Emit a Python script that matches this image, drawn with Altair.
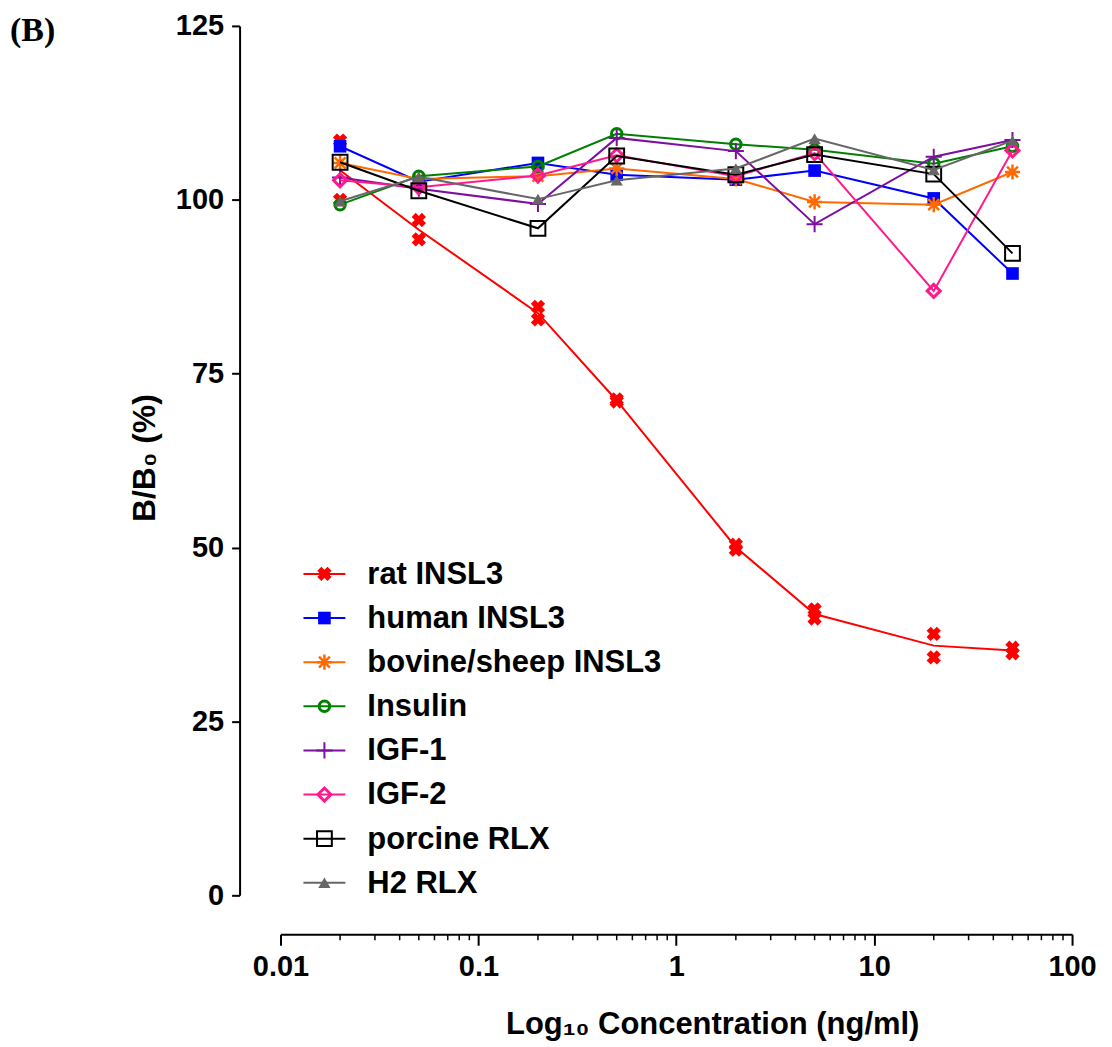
import altair as alt
import pandas as pd

# ---------------- data ----------------
conc = [0.02, 0.05, 0.2, 0.5, 2, 5, 20, 50]

rat_rep1 = [108.5, 97.1, 84.6, 71.3, 50.4, 41.1, 37.6, 35.6]
rat_rep2 = [100.0, 94.3, 82.8, 71.0, 49.7, 39.8, 34.2, 34.8]
human = [107.7, 102.6, 105.3, 103.6, 102.9, 104.2, 100.2, 89.4]
bovine = [105.3, 103.0, 103.4, 104.5, 103.0, 99.7, 99.3, 104.0]
insulin = [99.3, 103.4, 104.8, 109.5, 108.0, 107.2, 105.2, 107.7]
igf1 = [103.2, 101.6, 99.4, 108.9, 107.0, 96.5, 106.2, 108.6]
igf2 = [102.8, 101.8, 103.5, 106.4, 103.4, 106.7, 86.9, 107.1]
porcine = [105.4, 101.3, 95.9, 106.3, 103.6, 106.5, 103.7, 92.3]
h2 = [99.8, 103.3, 100.1, 102.8, 104.5, 108.8, 104.3, 108.5]

series_names = ["rat INSL3", "human INSL3", "bovine/sheep INSL3", "Insulin",
                "IGF-1", "IGF-2", "porcine RLX", "H2 RLX"]

x_tick_values = [0.01, 0.1, 1, 10, 100]
y_tick_values = [0, 25, 50, 75, 100, 125]
minor_ticks = [m * d for d in [0.01, 0.1, 1, 10] for m in range(2, 10)]

# ---------------- styles ----------------
FONT = "Liberation Sans"
W, H = 793, 871

ASTER = "M-1,0L1,0M0,-1L0,1M-0.72,-0.72L0.72,0.72M-0.72,0.72L0.72,-0.72"
PLUS = "M-1,0L1,0M0,-1L0,1"

styles = [
    dict(color="#ff0000", shape="cross", filled=True, size=210, sw=0, angle=45),
    dict(color="#0000ff", shape="square", filled=True, size=160, sw=0, angle=0),
    dict(color="#ff6a00", shape=ASTER, filled=False, size=230, sw=2.5, angle=0),
    dict(color="#008000", shape="circle", filled=False, size=110, sw=3, angle=0),
    dict(color="#7b0fa0", shape=PLUS, filled=False, size=260, sw=2, angle=0),
    dict(color="#ff1a8c", shape="diamond", filled=False, size=170, sw=3, angle=0),
    dict(color="#000000", shape="square", filled=False, size=220, sw=2, angle=0),
    dict(color="#666666", shape="triangle-up", filled=True, size=150, sw=0, angle=0),
]

values_by_series = [
    [(a + b) / 2 for a, b in zip(rat_rep1, rat_rep2)],
    human, bovine, insulin, igf1, igf2, porcine, h2,
]

x_enc = alt.X(
    "conc:Q",
    scale=alt.Scale(type="log", domain=[0.01, 100], nice=False),
    axis=alt.Axis(values=x_tick_values, format="~g", offset=39, tickSize=11,
                  tickWidth=2, domainWidth=2, labelPadding=7, labelFontSize=29,
                  labelFont=FONT, labelFontWeight="bold", labelColor="black",
                  labelOverlap=False, labelFlush=False, grid=False, title=None,
                  domainColor="black", tickColor="black"),
)
y_enc = alt.Y(
    "val:Q",
    scale=alt.Scale(domain=[0, 125], nice=False),
    axis=alt.Axis(values=y_tick_values, offset=41, tickSize=8, tickWidth=2,
                  domainWidth=2, labelPadding=8, labelFontSize=29, labelFont=FONT,
                  labelFontWeight="bold", labelColor="black", grid=False,
                  title=None, domainColor="black", tickColor="black"),
)


def point_mark(st, **extra):
    kw = dict(shape=st["shape"], size=st["size"], opacity=1)
    if st["filled"]:
        kw.update(filled=True, fill=st["color"], strokeWidth=0)
    else:
        kw.update(filled=False, stroke=st["color"], strokeWidth=st["sw"])
    if st["angle"]:
        kw["angle"] = st["angle"]
    kw.update(extra)
    return kw


layers = []

# minor ticks on x axis
minor_df = pd.DataFrame({"conc": minor_ticks})
layers.append(
    alt.Chart(minor_df).mark_rule(color="black", strokeWidth=1.5).encode(
        x=x_enc, y=alt.value(H + 39), y2=alt.value(H + 45)
    )
)

for i, name in enumerate(series_names):
    st = styles[i]
    df_line = pd.DataFrame({"conc": conc, "val": values_by_series[i], "series": name})
    layers.append(
        alt.Chart(df_line).mark_line(color=st["color"], strokeWidth=2).encode(x=x_enc, y=y_enc)
    )
    if i == 0:
        df_pts = pd.DataFrame({"conc": conc + conc, "val": rat_rep1 + rat_rep2})
    else:
        df_pts = df_line
    layers.append(
        alt.Chart(df_pts).mark_point(**point_mark(st)).encode(x=x_enc, y=y_enc)
    )

# manual legend
LEG_Y0, LEG_DY = 549, 44.2
for i, name in enumerate(series_names):
    st = styles[i]
    ly = LEG_Y0 + LEG_DY * i
    ldf = pd.DataFrame({"label": [name]})
    base = alt.Chart(ldf)
    layers.append(base.mark_rule(color=st["color"], strokeWidth=2).encode(
        x=alt.value(23), x2=alt.value(65), y=alt.value(ly)))
    layers.append(base.mark_point(**point_mark(st)).encode(
        x=alt.value(44), y=alt.value(ly)))
    layers.append(base.mark_text(align="left", baseline="middle", font=FONT,
                                 fontWeight="bold", fontSize=31, color="black").encode(
        x=alt.value(87), y=alt.value(ly + 1), text="label:N"))

# titles
tdf = pd.DataFrame({"t": ["B/B\u2080 (%)"]})
layers.append(alt.Chart(tdf).mark_text(angle=270, align="center", baseline="middle",
                                       font=FONT, fontWeight="bold", fontSize=32,
                                       color="black").encode(
    x=alt.value(-136), y=alt.value(433), text="t:N"))
xdf = pd.DataFrame({"t": ["Log\u2081\u2080 Concentration (ng/ml)"]})
layers.append(alt.Chart(xdf).mark_text(align="center", baseline="alphabetic",
                                       font=FONT, fontWeight="bold", fontSize=31,
                                       color="black").encode(
    x=alt.value(433), y=alt.value(1010), text="t:N"))
bdf = pd.DataFrame({"t": ["(B)"]})
layers.append(alt.Chart(bdf).mark_text(align="left", baseline="alphabetic",
                                       font="Liberation Serif", fontWeight="bold",
                                       fontSize=34, color="black").encode(
    x=alt.value(-271), y=alt.value(15), text="t:N"))

chart = alt.layer(*layers).properties(
    width=W, height=H,
    background="white",
    autosize=alt.AutoSizeParams(type="none"),
    padding={"left": 273, "top": 17, "right": 32, "bottom": 150},
).configure_view(strokeWidth=0, stroke="transparent")

chart.save("out.html", embed_options={"renderer": "svg", "actions": False})
